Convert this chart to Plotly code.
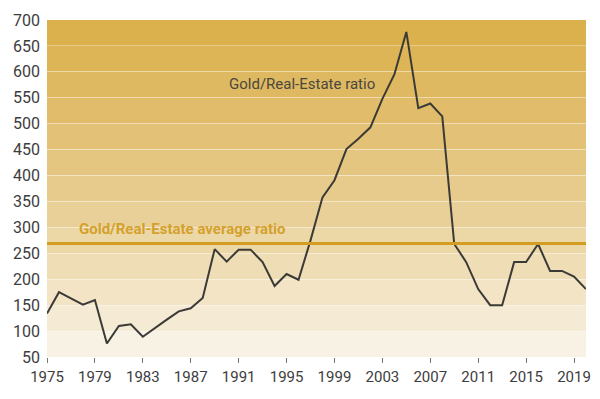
import plotly.graph_objects as go

years = list(range(1975, 2021))
ratio = [134, 175, 163, 151, 160, 76, 110, 113, 89, 106, 122, 138, 144, 164, 258, 234,
         257, 257, 233, 187, 210, 199, 275, 358, 391, 451, 471, 493, 548, 595, 677,
         530, 539, 514, 268, 233, 181, 150, 150, 233, 233, 268, 216, 216, 205, 181]
average_ratio = 269

y_ticks = list(range(50, 701, 50))
x_ticks = list(range(1975, 2020, 4))
band_colors = ["#f8f2e4", "#f5ead3", "#f2e4c4", "#efddb5", "#ecd7a7", "#e9d099",
               "#e7cb8c", "#e5c680", "#e3c176", "#e1bd6b", "#dfb961", "#ddb557", "#dbb14d"]

fig = go.Figure()

shapes = []
for i, c in enumerate(band_colors):
    shapes.append(dict(type="rect", xref="paper", yref="y", x0=0, x1=1,
                       y0=y_ticks[i], y1=y_ticks[i + 1], fillcolor=c,
                       line=dict(width=0), layer="below"))
shapes.append(dict(type="line", xref="paper", yref="y", x0=0, x1=1,
                   y0=average_ratio, y1=average_ratio,
                   line=dict(color="#d29d20", width=3), layer="above"))

fig.add_trace(go.Scatter(x=years, y=ratio, mode="lines",
                         line=dict(color="#3b3a36", width=2), hoverinfo="x+y"))

fig.update_layout(
    width=584, height=383,
    margin=dict(l=39, r=6, t=12, b=34),
    paper_bgcolor="white", plot_bgcolor="white",
    showlegend=False,
    shapes=shapes,
    font=dict(family="Roboto", size=15, color="#3d3d3d"),
    annotations=[
        dict(x=1996.3, y=576, xref="x", yref="y", text="Gold/Real-Estate ratio",
             showarrow=False, font=dict(family="Roboto", size=15, color="#4a473e")),
        dict(x=1986.25, y=296, xref="x", yref="y", text="<b>Gold/Real-Estate average ratio</b>",
             showarrow=False, font=dict(family="Roboto", size=15, color="#d4a12c")),
    ],
)
fig.update_xaxes(range=[1975, 2020], tickvals=x_ticks, ticks="outside", ticklen=5,
                 tickcolor="#777", tickwidth=1, showgrid=False, zeroline=False,
                 showline=False, tickfont=dict(size=15, color="#3d3d3d"),
                 ticklabelstandoff=1, automargin=False)
fig.update_yaxes(range=[50, 700], tickvals=y_ticks, showgrid=True,
                 gridcolor="rgba(255,255,255,0.35)", gridwidth=1, zeroline=False,
                 showline=False, tickfont=dict(size=16, color="#3d3d3d"),
                 ticklabelstandoff=6, automargin=False)

fig.write_html("out.html")
